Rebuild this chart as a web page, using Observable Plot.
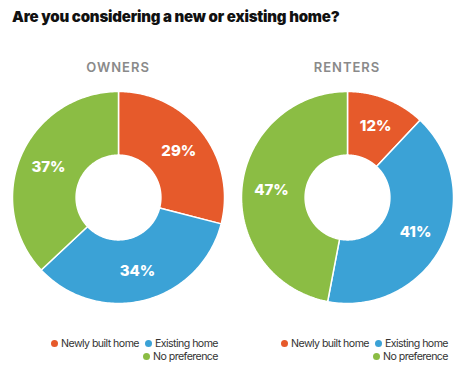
<!DOCTYPE html>
<html>
<head>
<meta charset="utf-8">
<script src="https://cdn.jsdelivr.net/npm/d3@7"></script>
<script src="https://cdn.jsdelivr.net/npm/@observablehq/plot@0.6"></script>
<style>
  html, body { margin: 0; padding: 0; background: #fff; }
  body { width: 459px; height: 367px; position: relative; overflow: hidden; font-family: Inter, "DejaVu Sans", sans-serif; }
  #title { position: absolute; left: 12px; top: 7px; font-size: 15px; font-weight: 900; color: #111; letter-spacing: -0.2px; white-space: nowrap; }
  .col { position: absolute; top: 0; height: 367px; }
  .sub { position: absolute; top: 59px; width: 100%; text-align: center; font-size: 13px; font-weight: 600; color: #8a8a8a; letter-spacing: 1px; }
  .chart { position: absolute; top: 89px; left: 0; }
  .legend { position: absolute; top: 337px; font-size: 10.6px; color: #333; letter-spacing: -0.55px; }
  .row { display: flex; justify-content: flex-end; gap: 6px; height: 13px; line-height: 13px; white-space: nowrap; }
  .item { display: flex; align-items: center; gap: 3px; }
  .dot { width: 7px; height: 7px; border-radius: 50%; display: inline-block; }
</style>
</head>
<body>
<div id="title">Are you considering a new or existing home?</div>
<div id="c0" class="col" style="left:0px;width:236px;"></div>
<div id="c1" class="col" style="left:229px;width:236px;"></div>
<script>
const categories = ["Newly built home", "Existing home", "No preference"];
const colors = ["#e65a2b", "#3ba2d6", "#8bbd44"];
const groups = ["OWNERS", "RENTERS"];
const ownersValues = [29, 34, 37];
const rentersValues = [12, 41, 47];
const seriesValues = [ownersValues, rentersValues];

const innerRatio = 0.40;
const labelRadius = 0.72;

function slicePolygons(values) {
  const arcs = d3.pie().sort(null).value(d => d)(values);
  return arcs.map((a, i) => {
    const n = 120;
    const pts = [];
    for (let k = 0; k <= n; k++) {
      const t = a.startAngle + (a.endAngle - a.startAngle) * k / n;
      pts.push([Math.sin(t), Math.cos(t)]);
    }
    for (let k = n; k >= 0; k--) {
      const t = a.startAngle + (a.endAngle - a.startAngle) * k / n;
      pts.push([innerRatio * Math.sin(t), innerRatio * Math.cos(t)]);
    }
    pts.push(pts[0]);
    const mid = (a.startAngle + a.endAngle) / 2;
    return {
      type: "Feature",
      properties: {category: categories[i], value: values[i],
        lx: labelRadius * Math.sin(mid), ly: labelRadius * Math.cos(mid)},
      geometry: {type: "Polygon", coordinates: [pts]}
    };
  });
}

groups.forEach((g, gi) => {
  const col = document.getElementById("c" + gi);
  const sub = document.createElement("div");
  sub.className = "sub";
  sub.textContent = g;
  col.appendChild(sub);

  const feats = slicePolygons(seriesValues[gi]);
  const plot = Plot.plot({
    width: 236,
    height: 216,
    margin: 0,
    marginLeft: 6,
    marginRight: 6,
    projection: {type: "reflect-y", domain: {type: "MultiPoint", coordinates: [[-1, -1], [1, 1]]}, inset: 2},
    color: {domain: categories, range: colors},
    marks: [
      Plot.geo(feats, {fill: d => d.properties.category, stroke: "white", strokeWidth: 1.5}),
      Plot.text(feats, {
        x: d => d.properties.lx, y: d => d.properties.ly,
        text: d => d.properties.value + "%",
        fill: "white", fontSize: 15, fontWeight: 800,
        fontFamily: "Inter, sans-serif"
      })
    ]
  });
  const wrap = document.createElement("div");
  wrap.className = "chart";
  wrap.appendChild(plot);
  col.appendChild(wrap);

  const leg = document.createElement("div");
  leg.className = "legend";
  leg.style.right = (gi === 0 ? 18 : 17) + "px";
  const rows = [[0, 1], [2]];
  rows.forEach(r => {
    const row = document.createElement("div");
    row.className = "row";
    r.forEach(i => {
      const it = document.createElement("span");
      it.className = "item";
      const dot = document.createElement("span");
      dot.className = "dot";
      dot.style.background = colors[i];
      const lab = document.createElement("span");
      lab.textContent = categories[i];
      it.appendChild(dot);
      it.appendChild(lab);
      row.appendChild(it);
    });
    leg.appendChild(row);
  });
  col.appendChild(leg);
});
</script>
</body>
</html>
